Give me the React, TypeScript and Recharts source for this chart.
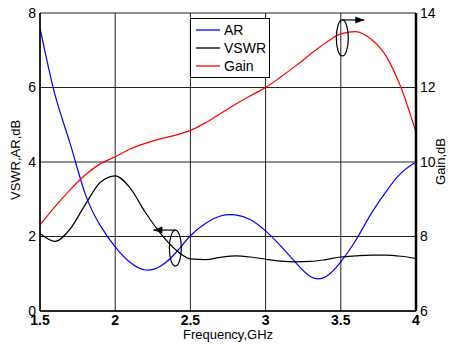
import { LineChart, Line, XAxis, YAxis, CartesianGrid, ReferenceDot } from 'recharts'

const freq = [1.5, 1.6, 1.7, 1.8, 1.9, 2.0, 2.1, 2.2, 2.3, 2.4, 2.5, 2.6, 2.7, 2.8, 2.9, 3.0, 3.1, 3.2, 3.3, 3.4, 3.5, 3.6, 3.7, 3.8, 3.9, 4.0]
const ar = [7.6, 5.8, 4.5, 3.15, 2.3, 1.72, 1.3, 1.1, 1.2, 1.55, 2.02, 2.35, 2.55, 2.58, 2.45, 2.15, 1.75, 1.3, 0.92, 0.92, 1.32, 1.9, 2.6, 3.2, 3.7, 4.0]
const vswr = [2.08, 1.87, 2.2, 2.85, 3.45, 3.63, 3.3, 2.65, 2.09, 1.65, 1.4, 1.38, 1.44, 1.48, 1.45, 1.39, 1.34, 1.32, 1.33, 1.38, 1.45, 1.48, 1.5, 1.5, 1.47, 1.41]
const gain = [8.31, 8.8, 9.25, 9.65, 9.95, 10.14, 10.35, 10.5, 10.62, 10.72, 10.85, 11.05, 11.3, 11.55, 11.78, 12.0, 12.28, 12.58, 12.9, 13.2, 13.44, 13.5, 13.3, 12.85, 12.0, 10.8]

const xTicks = [1.5, 2, 2.5, 3, 3.5, 4]
const leftTicks = [0, 2, 4, 6, 8]
const rightTicks = [6, 8, 10, 12, 14]

const legendItems = [
  { name: 'AR', color: '#0000ff' },
  { name: 'VSWR', color: '#000000' },
  { name: 'Gain', color: '#ff0000' },
]

const data = freq.map((f, i) => ({ f, ar: ar[i], vswr: vswr[i], gain: gain[i] }))

const font = 'Arial, "Liberation Sans", sans-serif'

function LegendBox() {
  return (
    <div style={{ position: 'absolute', left: 190, top: 18, border: '1px solid #000', background: '#fff', width: 78, padding: '2px 0 2px 0', fontFamily: font, fontSize: 14, lineHeight: '18px' }}>
      {legendItems.map((it) => (
        <div key={it.name} style={{ display: 'flex', alignItems: 'center', height: 18 }}>
          <svg width={26} height={4} style={{ marginLeft: 5, marginRight: 2 }}>
            <line x1={0} y1={2} x2={24} y2={2} stroke={it.color} strokeWidth={1.3} />
          </svg>
          <span style={{ color: '#000' }}>{it.name}</span>
        </div>
      ))}
    </div>
  )
}

// ellipse with a horizontal arrow, dir -1 = left, 1 = right
const marker = (dir: number) => (props: any) => {
  const { cx, cy } = props
  const ay = cy - 18
  const x2 = cx + dir * 22
  return (
    <g>
      <ellipse cx={cx} cy={cy} rx={6} ry={18} fill="none" stroke="#000" strokeWidth={1.2} />
      <line x1={cx} y1={ay} x2={x2} y2={ay} stroke="#000" strokeWidth={1.2} />
      <polygon points={`${x2},${ay} ${x2 - dir * 9},${ay - 3.5} ${x2 - dir * 9},${ay + 3.5}`} fill="#000" />
    </g>
  )
}

export default function App() {
  return (
    <div style={{ position: 'absolute', left: 0, top: 0, width: 449, height: 345, background: '#fff' }}>
      <LineChart width={449} height={345} data={data} margin={{ top: 13, right: 0, bottom: 0, left: 0 }}>
        <CartesianGrid yAxisId="left" stroke="#222" strokeWidth={1} />
        <XAxis
          dataKey="f"
          type="number"
          domain={[1.5, 4]}
          ticks={xTicks}
          height={34}
          tickSize={0}
          tickMargin={4}
          axisLine={{ stroke: '#000', strokeWidth: 1.5 }}
          tick={{ fill: '#000', fontSize: 14, fontWeight: 'bold', fontFamily: font }}
          label={{ value: 'Frequency,GHz', position: 'insideBottom', offset: 6, fill: '#000', fontSize: 13, fontFamily: font }}
        />
        <YAxis
          yAxisId="left"
          domain={[0, 8]}
          ticks={leftTicks}
          width={40}
          tickSize={0}
          tickMargin={4}
          axisLine={{ stroke: '#000', strokeWidth: 1.5 }}
          tick={{ fill: '#000', fontSize: 14, fontFamily: font }}
          label={{ value: 'VSWR,AR,dB', angle: -90, position: 'insideLeft', offset: 15, fill: '#000', fontSize: 13, fontFamily: font, dy: 38 }}
        />
        <YAxis
          yAxisId="right"
          orientation="right"
          domain={[6, 14]}
          ticks={rightTicks}
          width={33}
          tickSize={0}
          tickMargin={4}
          axisLine={{ stroke: '#000', strokeWidth: 2.5 }}
          tick={{ fill: '#000', fontSize: 14, fontFamily: font }}
          label={{ value: 'Gain,dB', angle: -90, position: 'insideRight', offset: 9, fill: '#000', fontSize: 13, fontFamily: font, dy: -24 }}
        />
        <Line yAxisId="left" type="natural" dataKey="ar" stroke="#0000ff" strokeWidth={1.2} dot={false} isAnimationActive={false} />
        <Line yAxisId="left" type="monotone" dataKey="vswr" stroke="#000000" strokeWidth={1.2} dot={false} isAnimationActive={false} />
        <Line yAxisId="right" type="monotone" dataKey="gain" stroke="#ff0000" strokeWidth={1.2} dot={false} isAnimationActive={false} />
        <ReferenceDot yAxisId="left" x={2.4} y={1.69} shape={marker(-1)} />
        <ReferenceDot yAxisId="right" x={3.51} y={13.33} shape={marker(1)} />
      </LineChart>
      <LegendBox />
    </div>
  )
}
